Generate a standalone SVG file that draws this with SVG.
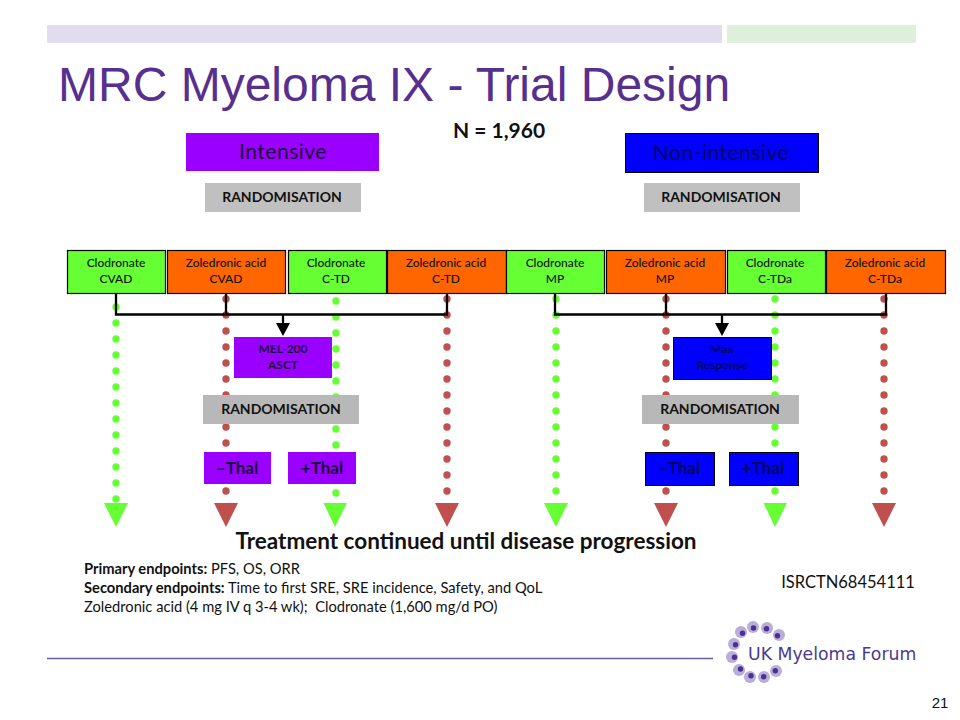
<svg xmlns="http://www.w3.org/2000/svg" width="960" height="720" viewBox="0 0 960 720">
<style>
text{font-family:"Lato","Open Sans","Liberation Sans",sans-serif;fill:#111;text-anchor:middle}
.g{fill:#66ff33;stroke:#000;stroke-width:1.2}
.o{fill:#ff6600;stroke:#000;stroke-width:1.2}
.lab{font-size:12px;font-weight:500}
.rand{font-size:14px;font-weight:700}
.thal{font-size:17px;font-weight:700}
.gd{fill:none;stroke:#66ff33;stroke-width:7.4;stroke-linecap:round;stroke-dasharray:0 16}
.rd{fill:none;stroke:#c0504d;stroke-width:7.4;stroke-linecap:round;stroke-dasharray:0 16}
.conn{fill:none;stroke:#000;stroke-width:2.3}
.halo{fill:#b9aed8}.core{fill:#4b2f91}
.left{text-anchor:start;font-size:14.700px}
</style>
<g id="header">
<rect x="47" y="25" width="675" height="18" fill="#e1dcee"/>
<rect x="727" y="25" width="189" height="18" fill="#deefdb"/>
<text x="58" y="101" font-size="48" style="font-family:'Liberation Sans',sans-serif;text-anchor:start;fill:#57308f">MRC Myeloma IX - Trial Design</text>
<text x="499" y="138" font-size="21" font-weight="700">N = 1,960</text>
</g>
<g id="dotted-lines">
<path class="gd" d="M116 307V500"/>
<path class="rd" d="M226 299V492"/>
<path class="gd" d="M336 301V494"/>
<path class="rd" d="M447 299V492"/>
<path class="gd" d="M556 299V492"/>
<path class="rd" d="M666 299V492"/>
<path class="gd" d="M775 299V492"/>
<path class="rd" d="M884 299V492"/>
</g>
<g id="triangles">
<path fill="#66ff33" d="M104 503H128L116 527Z"/>
<path fill="#c0504d" d="M214 503H238L226 527Z"/>
<path fill="#66ff33" d="M323.500 503H347L335 527Z"/>
<path fill="#c0504d" d="M435 503H459L447 527Z"/>
<path fill="#66ff33" d="M544 503H568L556 527Z"/>
<path fill="#c0504d" d="M654 503H678L666 527Z"/>
<path fill="#66ff33" d="M763.500 503H787L775 527Z"/>
<path fill="#c0504d" d="M872 503H896L884 527Z"/>
</g>
<g id="connectors">
<path class="conn" d="M116 293V314.500H447V293M226 293V314.500M283 314.500V326"/>
<path d="M276 323H290L283 336Z" fill="#000"/>
<path class="conn" d="M555 293V314.500H886V293M666 293V314.500M722 314.500V326"/>
<path d="M715 323H729L722 336Z" fill="#000"/>
</g>
<g id="intensive"><rect x="186" y="133" width="193" height="38" fill="#9900ff"/><text x="283" y="159" font-size="21" style="letter-spacing:.5px;fill:#1c0838">Intensive</text></g>
<g id="non-intensive"><rect x="625.500" y="133.500" width="193" height="39" fill="#0000ff" stroke="#000"/><text x="721" y="160" font-size="21" style="fill:#000760;letter-spacing:.5px">Non-intensive</text></g>
<g id="rand-1"><rect x="205" y="183" width="156" height="29" fill="#c0c0c0"/><text class="rand" x="282" y="202">RANDOMISATION</text></g>
<g id="rand-2"><rect x="644" y="183" width="156" height="29" fill="#c0c0c0"/><text class="rand" x="721" y="202">RANDOMISATION</text></g>
<g id="arm-1"><rect class="g" x="67.500" y="250.500" width="98" height="43"/><text class="lab" x="116" y="267">Clodronate</text><text class="lab" x="116" y="283">CVAD</text></g>
<g id="arm-2"><rect class="o" x="167.500" y="250.500" width="118" height="43"/><text class="lab" x="226" y="267">Zoledronic acid</text><text class="lab" x="226" y="283">CVAD</text></g>
<g id="arm-3"><rect class="g" x="288.500" y="250.500" width="98" height="43"/><text class="lab" x="336" y="267">Clodronate</text><text class="lab" x="336" y="283">C-TD</text></g>
<g id="arm-4"><rect class="o" x="387.500" y="250.500" width="119" height="43"/><text class="lab" x="446" y="267">Zoledronic acid</text><text class="lab" x="446" y="283">C-TD</text></g>
<g id="arm-5"><rect class="g" x="506.500" y="250.500" width="98" height="43"/><text class="lab" x="555" y="267">Clodronate</text><text class="lab" x="555" y="283">MP</text></g>
<g id="arm-6"><rect class="o" x="606.500" y="250.500" width="119" height="43"/><text class="lab" x="665" y="267">Zoledronic acid</text><text class="lab" x="665" y="283">MP</text></g>
<g id="arm-7"><rect class="g" x="727.500" y="250.500" width="98" height="43"/><text class="lab" x="775" y="267">Clodronate</text><text class="lab" x="775" y="283">C-TDa</text></g>
<g id="arm-8"><rect class="o" x="826.500" y="250.500" width="119" height="43"/><text class="lab" x="885" y="267">Zoledronic acid</text><text class="lab" x="885" y="283">C-TDa</text></g>
<g id="mel"><rect x="234" y="337" width="98" height="41" fill="#9900ff"/><text class="lab" x="283" y="353" style="font-weight:700;fill:#1c0838">MEL-200</text><text class="lab" x="283" y="369" style="font-weight:700;fill:#1c0838">ASCT</text></g>
<g id="max"><rect x="673.500" y="337.500" width="98" height="42" fill="#0000ff" stroke="#000"/><text class="lab" x="722" y="353" style="font-weight:700;fill:#000760">Max</text><text class="lab" x="722" y="369" style="font-weight:700;fill:#000760">Response</text></g>
<g id="rand-3"><rect x="203" y="395" width="156" height="29" fill="#b8b8b8"/><text class="rand" x="281" y="414">RANDOMISATION</text></g>
<g id="rand-4"><rect x="642" y="395" width="157" height="29" fill="#b8b8b8"/><text class="rand" x="720" y="414">RANDOMISATION</text></g>
<g id="thal-1"><rect x="204" y="452" width="67" height="32" fill="#9900ff"/><text class="thal" x="237" y="474" style="fill:#1c0838">–Thal</text></g>
<g id="thal-2"><rect x="288" y="452" width="68" height="32" fill="#9900ff"/><text class="thal" x="322" y="474" style="fill:#1c0838">+Thal</text></g>
<g id="thal-3"><rect x="645.500" y="452.500" width="69" height="33" fill="#0000ff" stroke="#000"/><text class="thal" x="679" y="474" style="fill:#000760">–Thal</text></g>
<g id="thal-4"><rect x="729.500" y="452.500" width="69" height="33" fill="#0000ff" stroke="#000"/><text class="thal" x="763" y="474" style="fill:#000760">+Thal</text></g>
<g id="notes">
<text x="466" y="549" font-size="22.500" font-weight="700">Treatment continued until disease progression</text>
<text class="left" x="84" y="574"><tspan font-weight="700">Primary endpoints:</tspan> PFS, OS, ORR</text>
<text class="left" x="84" y="593"><tspan font-weight="700">Secondary endpoints:</tspan> Time to first SRE, SRE incidence, Safety, and QoL</text>
<text class="left" x="84" y="612">Zoledronic acid (4 mg IV q 3-4 wk);&#160; Clodronate (1,600 mg/d PO)</text>
<text x="848" y="588" font-size="16.500">ISRCTN68454111</text>
</g>
<g id="footer">
<path d="M47 658.500H713" stroke="#6a5aa8" stroke-width="1.300"/>
<g class="halo"><circle cx="753" cy="627" r="6"/><circle cx="767" cy="628" r="6"/><circle cx="779" cy="635" r="6"/><circle cx="741" cy="632" r="6"/><circle cx="734" cy="644" r="6"/><circle cx="732" cy="657" r="6"/><circle cx="739" cy="670" r="6"/><circle cx="750" cy="677" r="6"/><circle cx="764" cy="677" r="6"/><circle cx="776" cy="671" r="6"/></g>
<g class="core"><circle cx="753.500" cy="628" r="2.700"/><circle cx="766.500" cy="628.700" r="2.700"/><circle cx="777.500" cy="635.700" r="2.700"/><circle cx="742.500" cy="633.300" r="2.700"/><circle cx="735.500" cy="644.700" r="2.700"/><circle cx="734.500" cy="657.300" r="2.700"/><circle cx="740.500" cy="669" r="2.700"/><circle cx="751" cy="675.700" r="2.700"/><circle cx="763.700" cy="676.700" r="2.700"/><circle cx="775.300" cy="670.700" r="2.700"/></g>
<text x="748" y="660" font-size="17.300" style="font-family:'DejaVu Sans',sans-serif;text-anchor:start;fill:#4b3a8f">UK Myeloma Forum</text>
<text x="940" y="708" font-size="15" style="font-family:'Liberation Sans',sans-serif">21</text>
</g>
</svg>
